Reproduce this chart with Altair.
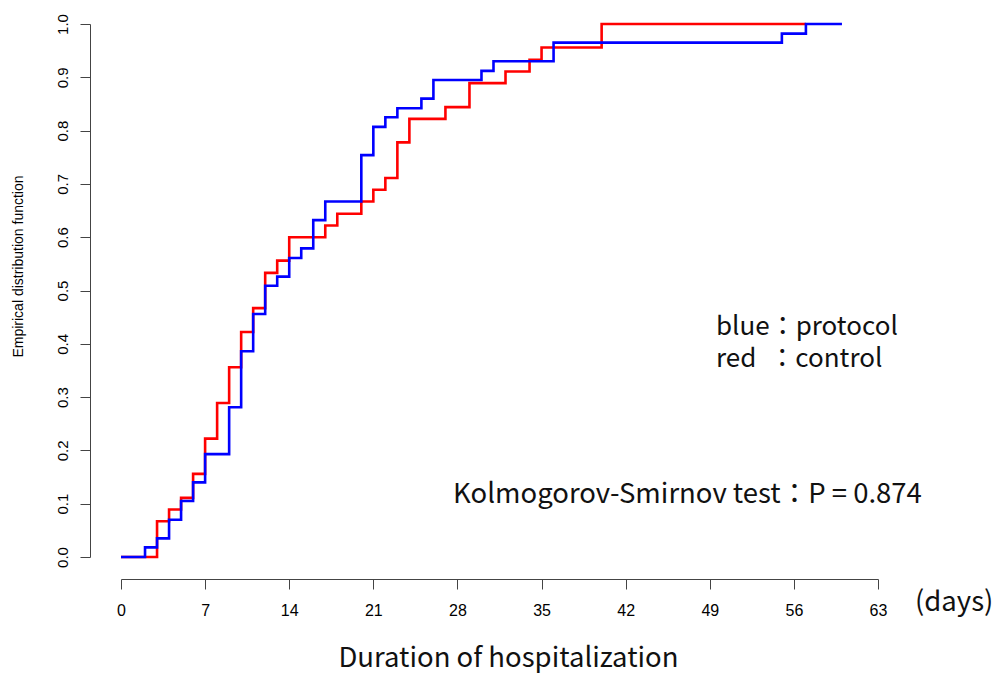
import altair as alt
import pandas as pd

# Control group (red) ECDF steps
red_days = [0, 3, 4, 5, 6, 7, 8, 9, 10, 11, 12, 13, 14, 17, 18, 20, 21, 22, 23, 24, 27, 29, 32, 34, 35, 40, 57]
red_ecdf = [0.0, 0.067, 0.089, 0.111, 0.156, 0.222, 0.289, 0.356, 0.422, 0.467, 0.533, 0.556, 0.600,
            0.622, 0.644, 0.667, 0.689, 0.711, 0.778, 0.822, 0.844, 0.889, 0.911, 0.933, 0.956, 1.0, 1.0]

# Protocol group (blue) ECDF steps
blue_days = [0, 2, 3, 4, 5, 6, 7, 9, 10, 11, 12, 13, 14, 15, 16, 17, 20, 21, 22, 23, 25, 26, 30, 31, 36, 55, 57, 60]
blue_ecdf = [0.0, 0.018, 0.035, 0.070, 0.105, 0.140, 0.193, 0.281, 0.386, 0.456, 0.509, 0.526, 0.561,
             0.579, 0.632, 0.667, 0.754, 0.807, 0.825, 0.842, 0.860, 0.895, 0.912, 0.930, 0.965, 0.982, 1.0, 1.0]

x_ticks = [0, 7, 14, 21, 28, 35, 42, 49, 56, 63]
y_ticks = [0.0, 0.1, 0.2, 0.3, 0.4, 0.5, 0.6, 0.7, 0.8, 0.9, 1.0]

legend_text = "blue：protocol\nred\u2002：control"

red_df = pd.DataFrame({"day": red_days, "F": red_ecdf})
blue_df = pd.DataFrame({"day": blue_days, "F": blue_ecdf})

W, H = 757, 533
CJK = "Noto Sans CJK JP"
SANS = "Liberation Sans"
BIG = 27.5

x_enc = alt.X("day:Q", scale=alt.Scale(domain=[0, 63], nice=False, zero=False),
              axis=alt.Axis(values=x_ticks, title="Duration of hospitalization", grid=False,
                            offset=22, tickSize=10, labelFontSize=16, labelFont=SANS,
                            labelColor="#000", labelPadding=13, labelFlush=False,
                            domainColor="#444", tickColor="#444",
                            titleFont=CJK, titleFontSize=BIG, titleFontWeight="normal",
                            titleColor="#111", titleX=387, titleY=79, titleBaseline="middle",
                            titleAlign="center"))
y_enc = alt.Y("F:Q", scale=alt.Scale(domain=[0, 1], nice=False),
              axis=alt.Axis(values=y_ticks, format=".1f", title="Empirical distribution function",
                            grid=False, offset=31, tickSize=10, labelFontSize=15, labelFont=SANS,
                            labelColor="#000", labelAngle=-90, labelAlign="center",
                            labelBaseline="bottom", labelPadding=10, labelFlush=False,
                            domainColor="#444", tickColor="#444",
                            titleFont=SANS, titleFontSize=14, titleFontWeight="normal",
                            titleColor="#000", titleAngle=-90, titleX=-72, titleY=242,
                            titleAlign="center", titleBaseline="middle"))

red_line = alt.Chart(red_df).mark_line(interpolate="step-after", color="#FF0000", strokeWidth=2.6).encode(
    x=x_enc, y=y_enc)
blue_line = alt.Chart(blue_df).mark_line(interpolate="step-after", color="#0000FF", strokeWidth=2.6).encode(
    x="day:Q", y="F:Q")

def label(text, px, py, size=BIG, baseline="alphabetic", **kw):
    return alt.Chart(pd.DataFrame({"t": [text]})).mark_text(
        align="left", baseline=baseline, font=CJK, fontSize=size, color="#111", **kw
    ).encode(text="t:N", x=alt.value(px), y=alt.value(py))

texts = [
    label(legend_text, 595, 311, size=26, lineBreak="\n", lineHeight=32),
    label("Kolmogorov-Smirnov test：P = 0.874", 332, 471, baseline="middle"),
    label("(days)", 794, 579, baseline="middle"),
]

chart = alt.layer(red_line, blue_line, *texts).properties(
    width=W, height=H,
    background="white",
    padding={"left": 121, "top": 24, "right": 115, "bottom": 118},
    autosize=alt.AutoSizeParams(type="none"),
).configure_view(strokeWidth=0, stroke=None)

chart.save("out.html", embed_options={"renderer": "svg", "actions": False})
